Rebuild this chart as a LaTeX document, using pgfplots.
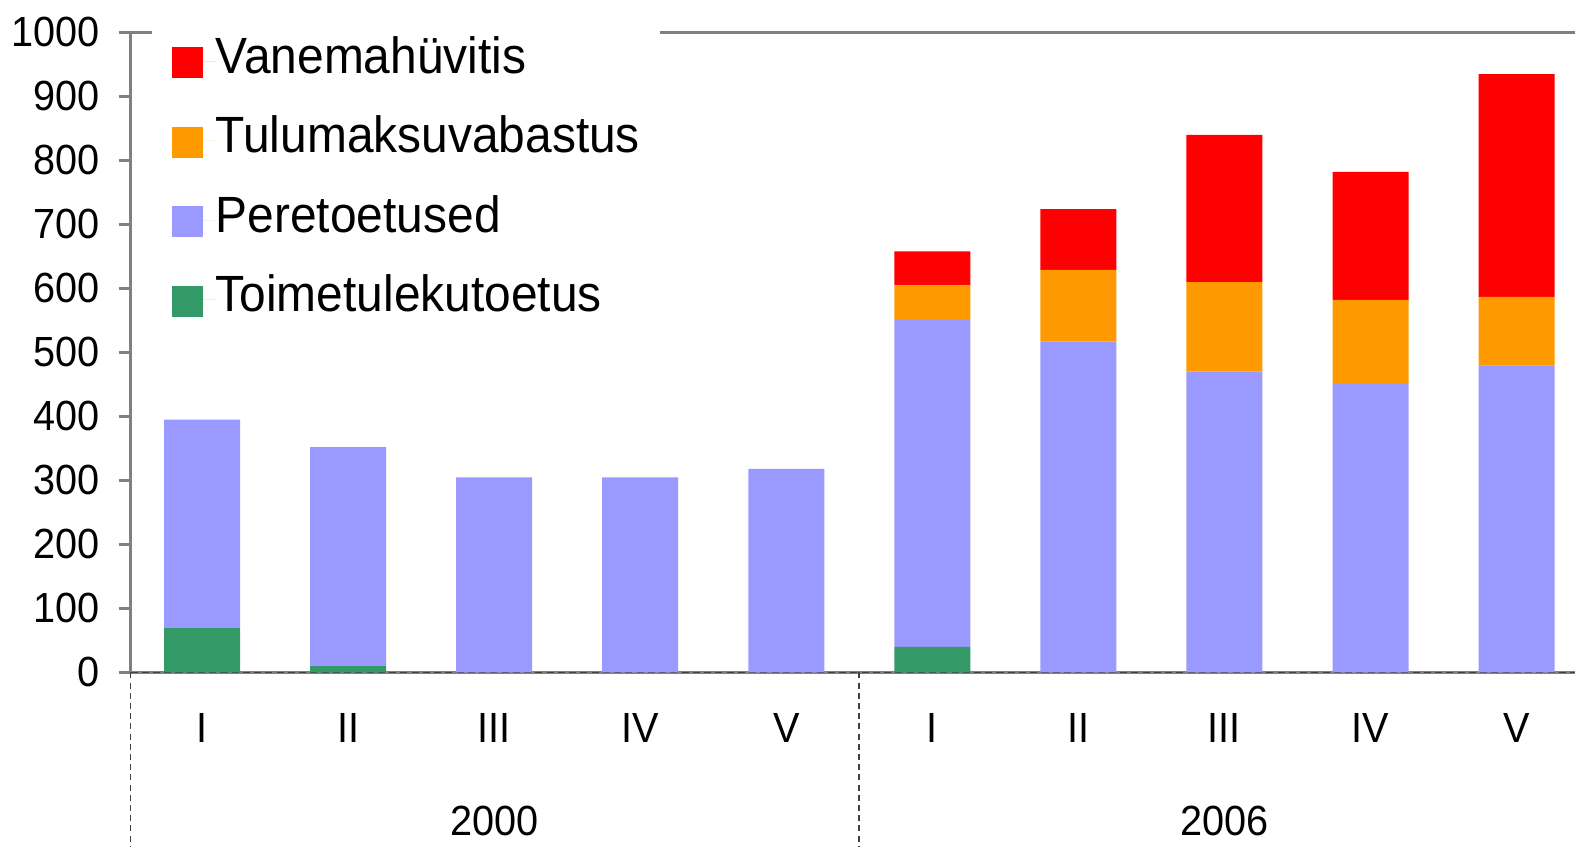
\documentclass[border=0pt]{standalone}
\usepackage{fontspec}
\setmainfont{Liberation Sans}[FakeStretch=0.94]
\usepackage{pgfplots}
\usepackage{pgfplotstable}
\pgfplotsset{compat=1.18}

\definecolor{cred}{HTML}{FF0000}
\definecolor{corange}{HTML}{FF9900}
\definecolor{cpurple}{HTML}{9999FF}
\definecolor{cgreen}{HTML}{339966}
\definecolor{axgray}{HTML}{808080}
\definecolor{dashgray}{HTML}{404040}

% x: 0-4 = 2000 I..V, 5-9 = 2006 I..V
\pgfplotstableread{
x  toime pere tulu vane
0  70   325  0    0
1  10   342  0    0
2  0    305  0    0
3  0    305  0    0
4  0    318  0    0
5  40   512  53   53
6  0    517  112  95
7  0    470  140  230
8  0    452  130  200
9  0    480  107  348
}\datatable

\begin{document}
\begin{tikzpicture}
\begin{axis}[
    at={(1.305cm,1.745cm)}, anchor=south west,
    scale only axis, width=14.445cm, height=6.4cm,
    xmin=-0.49, xmax=9.4, ymin=0, ymax=1000,
    ybar stacked, bar width=0.76cm,
    axis x line*=bottom, axis y line*=left,
    axis line style={draw=axgray, line width=0.9pt},
    clip=false,
    ytick={0,100,...,1000},
    ytick style={draw=axgray, line width=0.7pt},
    tick align=outside, major tick length=0.11cm,
    yticklabel style={font=\fontsize{12}{14}\selectfont, anchor=east, inner sep=0pt, xshift=-0.19cm},
    /pgf/number format/assume math mode=true,
    /pgf/number format/1000 sep={},
    xtick=data, xticklabels={I,II,III,IV,V,I,II,III,IV,V},
    xtick style={draw=none},
    xticklabel style={font=\fontsize{12}{14}\selectfont, anchor=base, inner sep=0pt, yshift=-0.595cm},
    reverse legend,
    legend style={at={(0.0142,1.0153)}, anchor=north west, draw=none, fill=white,
        font=\fontsize{14.5}{16}\selectfont, inner xsep=0.2cm, inner ysep=0.15cm,
        row sep=9.6pt, nodes={inner sep=0pt, text height=10pt, text depth=3pt},
        column sep=0pt},
    legend cell align=left,
    legend image code/.code={\fill (0cm,-0.17cm) rectangle (0.31cm,0.14cm); \path (0.31cm,0) -- (0.44cm,0);},
]
  \addplot[fill=cgreen, draw=none] table[x=x, y=toime] {\datatable};
  \addlegendentry{Toimetulekutoetus}
  \addplot[fill=cpurple, draw=none] table[x=x, y=pere] {\datatable};
  \addlegendentry{Peretoetused}
  \addplot[fill=corange, draw=none] table[x=x, y=tulu] {\datatable};
  \addlegendentry{Tulumaksuvabastus}
  \addplot[fill=cred, draw=none] table[x=x, y=vane] {\datatable};
  \addlegendentry{Vanemahüvitis}

  \draw[axgray, line width=0.9pt] (rel axis cs:0,1) -- (rel axis cs:1,1);
  \draw[dashgray, line width=0.5pt, dash pattern=on 2pt off 1.2pt] (rel axis cs:0,0) -- (rel axis cs:1,0);
  \draw[dashgray, line width=0.5pt, dash pattern=on 1.7pt off 1.2pt] (rel axis cs:0,0) -- ([yshift=-1.75cm]rel axis cs:0,0);
  \draw[dashgray, line width=0.5pt, dash pattern=on 1.7pt off 1.2pt] (axis cs:4.5,0) -- ([yshift=-1.75cm]axis cs:4.5,0);

  \node[font=\fontsize{12}{14}\selectfont, anchor=base, inner sep=0pt] at ([yshift=-1.635cm]axis cs:2,0) {2000};
  \node[font=\fontsize{12}{14}\selectfont, anchor=base, inner sep=0pt] at ([yshift=-1.635cm]axis cs:7,0) {2006};
\end{axis}
\pgfresetboundingbox
\useasboundingbox (0,0) rectangle (15.75cm,8.47cm);
\end{tikzpicture}
\end{document}
